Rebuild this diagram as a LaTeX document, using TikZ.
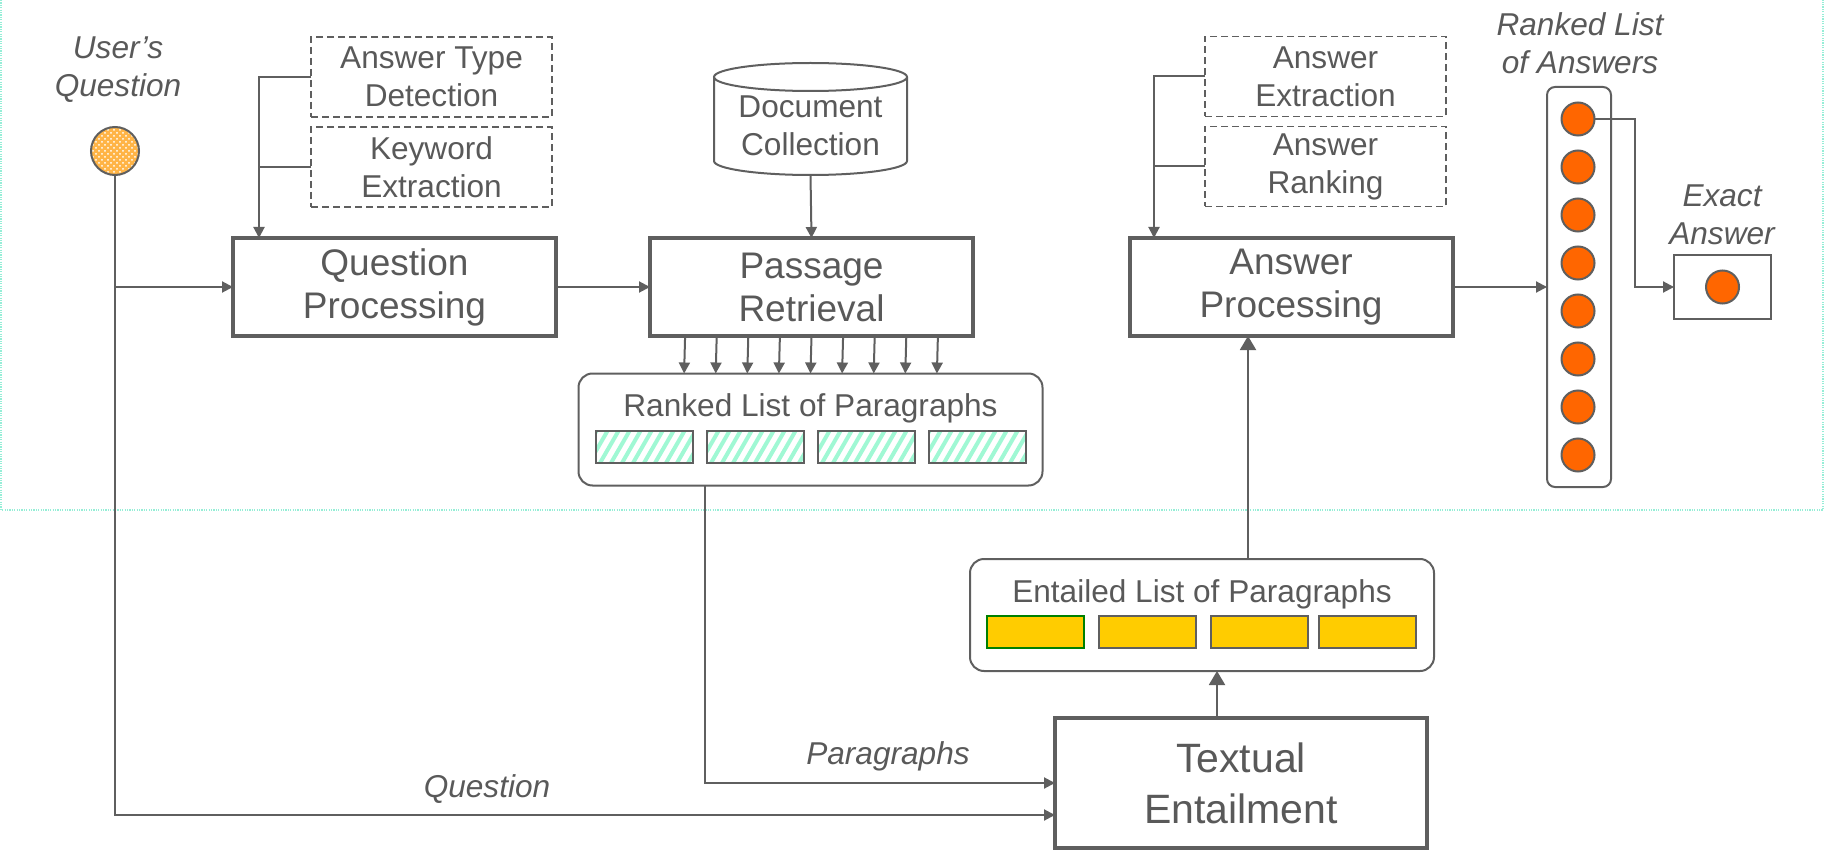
\documentclass[tikz,border=0pt]{standalone}
\usepackage{fontspec}
\setmainfont{Liberation Sans}
\usetikzlibrary{arrows.meta,patterns}
\definecolor{gr}{RGB}{95,95,95}
\definecolor{txt}{RGB}{89,89,89}
\definecolor{org}{RGB}{255,102,0}
\definecolor{yel}{RGB}{255,204,0}
\definecolor{grn}{RGB}{0,128,0}
\definecolor{mint}{RGB}{160,248,212}
\definecolor{cyanline}{RGB}{150,238,215}
\definecolor{lorg}{RGB}{255,180,70}
\begin{document}
\begin{tikzpicture}[x=0.5pt,y=-0.5pt,
  every node/.style={text=txt, inner sep=0pt, outer sep=0pt},
  sm/.style={font=\fontsize{15.8}{19}\selectfont},
  smc/.style={font=\fontsize{15.8}{19}\selectfont, align=center},
  itl/.style={font=\fontsize{15.8}{19}\selectfont\itshape, align=center},
  mainbox/.style={draw=gr, line width=2pt, minimum width=161.5pt, minimum height=49pt,
    font=\fontsize{18.5}{21.5}\selectfont, align=center},
  subbox/.style={draw=gr, line width=0.9pt, dash pattern=on 3.5pt off 2pt,
    minimum width=120.5pt, minimum height=40pt, font=\fontsize{15.8}{19}\selectfont, align=center},
  conn/.style={draw=gr, line width=1pt},
  arr/.style={conn, -{Triangle[length=5.5pt,width=5.5pt]}},
  bigarr/.style={conn, -{Triangle[length=7pt,width=8pt]}},
  listbox/.style={draw=gr, line width=1pt, rounded corners=7pt, minimum width=232pt, minimum height=56pt},
  hbar/.style={draw=gr, line width=1pt, minimum width=48.5pt, minimum height=16pt},
  hatch/.style={hbar, path picture={
      \foreach \i in {-7,...,5} {\draw[mint, line width=2pt] ([xshift=\i*5.5pt]path picture bounding box.south) -- ++(60:25pt);}}},
  ybar/.style={hbar, fill=yel},
  dot/.style={circle, draw=gr, line width=1pt, fill=org, minimum size=16.5pt}
]
\useasboundingbox (0,0) rectangle (1825,850);
% background frame
\draw[cyanline, line width=1pt, dash pattern=on 0.6pt off 0.6pt] (1,0) -- (1,510) -- (1823,510) -- (1823,0);

% user's question
\node[itl] (uql) at (118,70) {User’s\\Question};
\node[circle, draw=gr, line width=1pt, minimum size=24pt, fill=lorg,
  path picture={\fill[pattern=crosshatch dots, pattern color=white]
    (path picture bounding box.south west) rectangle (path picture bounding box.north east);}] (uq) at (115,151) {};

% main boxes
\node[mainbox] (qp) at (394.5,287) {Question\\Processing};
\node[mainbox] (pr) at (811.5,287) {Passage\\Retrieval};
\node[mainbox] (ap) at (1291,287) {Answer\\Processing};
\node[mainbox, minimum width=186pt, minimum height=65pt, font=\fontsize{20.5}{25.5}\selectfont] (te) at (1241,783) {Textual\\Entailment};

% dashed sub boxes
\node[subbox] (atd) at (431.5,77) {Answer Type\\Detection};
\node[subbox] (ke) at (431.5,167) {Keyword\\Extraction};
\node[subbox] (ae) at (1325.5,76.5) {Answer\\Extraction};
\node[subbox] (ar) at (1325.5,166.5) {Answer\\Ranking};

\coordinate (qpin) at (259,77);
\draw[arr] (atd.west) -- (qpin) -- (qpin |- qp.north);
\draw[conn] (ke.west) -- (qpin |- ke.west);
\coordinate (apin) at (1154,76.5);
\draw[arr] (ae.west) -- (apin) -- (apin |- ap.north);
\draw[conn] (ar.west) -- (apin |- ar.west);

% document collection cylinder
\draw[gr, line width=1pt, fill=white] (714,77) -- (714,161) .. controls (714,168.7) and (757.2,175) .. (810.5,175)
  .. controls (863.8,175) and (907,168.7) .. (907,161) -- (907,77);
\draw[gr, line width=1pt] (810.5,77) ellipse [x radius=96.5, y radius=14];
\node[smc, minimum width=96.5pt, minimum height=49pt] (dc) at (810.5,126) {Document\\Collection};
\draw[arr] (dc.south) -- (pr.north);

% ranked list of paragraphs
\node[listbox] (rlp) at (810.5,429.5) {};
\node[sm, anchor=base] (rlpt) at (810.5,416) {Ranked List of Paragraphs};
\node[hatch] (p1) at (644,447) {};
\node[hatch] (p2) at (755,447) {};
\node[hatch] (p3) at (866,447) {};
\node[hatch] (p4) at (977,447) {};
\foreach \k in {0,...,8} {
  \draw[arr] ([xshift={(\k-4)*15.8pt}]pr.south) -- ([xshift={(\k-4)*15.8pt}]rlp.north);
}

% entailed list
\node[listbox] (elp) at (1202,615) {};
\node[sm, anchor=base] (elpt) at (1202,602) {Entailed List of Paragraphs};
\node[ybar, draw=grn] (e1) at (1035.5,632) {};
\node[ybar] (e2) at (1147,632) {};
\node[ybar] (e3) at (1259,632) {};
\node[ybar] (e4) at (1367.5,632) {};

% connectors
\draw[arr] (qp.east) -- (pr.west);
\draw[arr] (uq.south |- qp.west) -- (qp.west);
\draw[arr] (uq.south) |- ([yshift=-16pt]te.west);
\draw[arr] ([xshift=-52.75pt]rlp.south) |- (te.west);
\node[itl] (parl) at (888,756) {Paragraphs};
\node[itl] (ql) at (487,789) {Question};
\draw[bigarr] ([xshift=-12pt]te.north) -- ([xshift=-12pt]te.north |- elp.south);
\draw[bigarr] ([xshift=23pt]elp.north) -- ([xshift=23pt]elp.north |- ap.south);

% ranked list of answers
\node[itl] (rlal) at (1580,43) {Ranked List\\of Answers};
\node[draw=gr, line width=1pt, rounded corners=4pt, minimum width=32pt, minimum height=200pt] (rla) at (1579,287) {};
\foreach \k in {1,...,8} {
  \node[dot] (d\k) at (1578,71+48*\k) {};
}
\draw[arr] (ap.east) -- (rla.west);

% exact answer
\node[itl] (eal) at (1722,215) {Exact\\Answer};
\node[draw=gr, line width=1pt, minimum width=48.5pt, minimum height=32pt] (ea) at (1722.5,287) {};
\node[dot] (ed) at (ea.center) {};
\coordinate (bend) at (1635,119);
\draw[arr] (d1.east) -- (bend) |- (ea.west);
\end{tikzpicture}
\end{document}
